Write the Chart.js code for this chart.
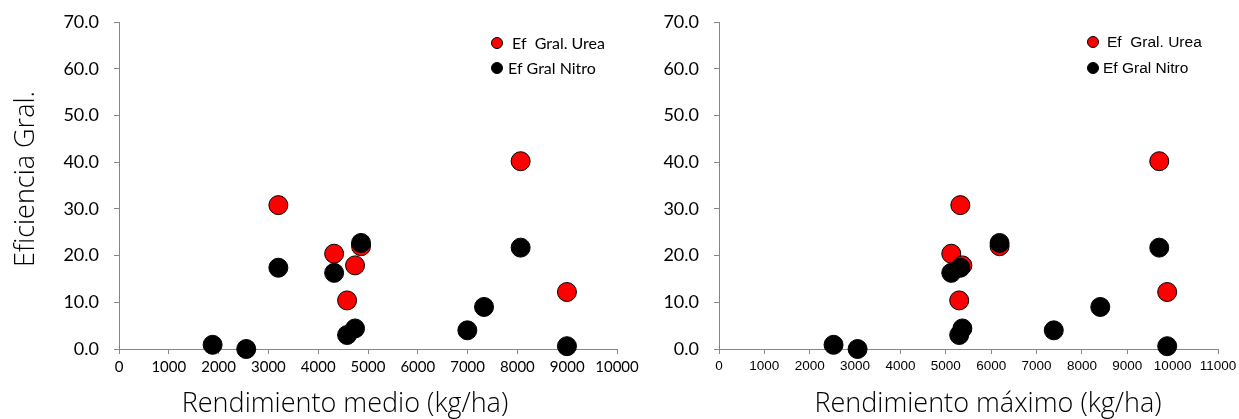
<!DOCTYPE html>
<html>
<head>
<meta charset="utf-8">
<script src="https://cdn.jsdelivr.net/npm/chart.js@4.4.1/dist/chart.umd.min.js"></script>
<style>
  html, body { margin: 0; padding: 0; background: #fff; overflow: hidden; }
  #wrap { position: relative; width: 1239px; height: 419px; overflow: hidden; }
  .box { position: absolute; top: 0; height: 419px; }
  #boxMedio { left: 0; width: 660px; }
  #boxMax { left: 620px; width: 619px; }
</style>
</head>
<body>
<div id="wrap">
  <div class="box" id="boxMedio"><canvas id="chartMedio"></canvas></div>
  <div class="box" id="boxMax"><canvas id="chartMax"></canvas></div>
</div>
<script>
// Data (one entry per site)
const rendMedio = [1880, 2555, 3200, 4320, 4580, 4740, 4860, 6995, 7330, 8065, 8995];
const rendMaximo = [2525, 3055, 5320, 5120, 5295, 5365, 6185, 7380, 8405, 9705, 9880];
const efUrea = [null, null, 30.8, 20.4, 10.4, 17.9, 22.0, null, null, 40.2, 12.2];
const efNitro = [0.9, 0.0, 17.4, 16.3, 3.0, 4.4, 22.7, 4.0, 9.0, 21.7, 0.6];

const seriesNames = ["Ef  Gral. Urea", "Ef Gral Nitro"];
const yTitle = "Eficiencia Gral.";
const xTitleMedio = "Rendimiento medio (kg/ha)";
const xTitleMax = "Rendimiento máximo (kg/ha)";
const yMax = 70;
const xMaxMedio = 10000;
const xMaxMaximo = 11000;

const AXIS_GREY = "#868686";
const TITLE_FONT = '300 27px "Century Gothic", "Open Sans", "DejaVu Sans", sans-serif';

function toPoints(xs, ys) {
    const pts = [];
    for (let i = 0; i < xs.length; i++) {
        if (ys[i] !== null) pts.push({ x: xs[i], y: ys[i] });
    }
    return pts;
}

// Draws axis titles and the small in-plot legend
function decorPlugin(cfg) {
    return {
        id: "decor",
        afterDraw(chart) {
            const ctx = chart.ctx;
            ctx.save();
            ctx.fillStyle = "#000";
            ctx.textBaseline = "middle";

            // x title
            ctx.font = TITLE_FONT;
            ctx.textAlign = "center";
            ctx.fillText(cfg.xTitle, cfg.xTitleX, cfg.xTitleY);

            // y title (left chart only)
            if (cfg.yTitle) {
                ctx.save();
                ctx.translate(26, 179);
                ctx.rotate(-Math.PI / 2);
                ctx.fillText(cfg.yTitle, 0, 0);
                ctx.restore();
            }

            // legend
            ctx.font = cfg.legendFont;
            ctx.textAlign = "left";
            const colors = ["#ff0000", "#000000"];
            for (let i = 0; i < 2; i++) {
                const y = cfg.legendY[i];
                ctx.beginPath();
                ctx.arc(cfg.legendX, y, 5.5, 0, Math.PI * 2);
                ctx.fillStyle = colors[i];
                ctx.fill();
                ctx.lineWidth = 1;
                ctx.strokeStyle = "#000";
                ctx.stroke();
                ctx.fillStyle = "#000";
                ctx.fillText(seriesNames[i], cfg.legendTextX[i], y + 1);
            }
            ctx.restore();
        }
    };
}

function makeChart(canvasId, xs, xMax, opts) {
    const ctx = document.getElementById(canvasId).getContext("2d");
    return new Chart(ctx, {
        type: "scatter",
        data: {
            datasets: [
                {
                    label: seriesNames[1],
                    data: toPoints(xs, efNitro),
                    backgroundColor: "#000000",
                    borderColor: "#000000",
                    borderWidth: 1,
                    pointRadius: 9.5,
                    clip: false
                },
                {
                    label: seriesNames[0],
                    data: toPoints(xs, efUrea),
                    backgroundColor: "#ff0000",
                    borderColor: "#000000",
                    borderWidth: 1,
                    pointRadius: 9.5,
                    clip: false
                }
            ]
        },
        options: {
            responsive: true,
            maintainAspectRatio: false,
            animation: false,
            layout: { padding: { left: 0, right: opts.padRight, top: 22, bottom: 0 } },
            plugins: { legend: { display: false }, tooltip: { enabled: false } },
            scales: {
                x: {
                    type: "linear",
                    min: 0,
                    max: xMax,
                    grid: { drawOnChartArea: false, drawTicks: true, tickLength: 5, color: AXIS_GREY },
                    border: { color: AXIS_GREY, width: 1 },
                    ticks: {
                        stepSize: 1000,
                        maxRotation: 0,
                        autoSkip: false,
                        padding: 4,
                        color: "#000",
                        font: opts.xTickFont,
                        callback: v => String(v)
                    },
                    afterFit(scale) {
                        scale.height = 70;
                        scale.paddingLeft = 0;
                        scale.paddingRight = 0;
                    }
                },
                y: {
                    type: "linear",
                    min: 0,
                    max: yMax,
                    grid: { drawOnChartArea: false, drawTicks: true, tickLength: 5, color: AXIS_GREY },
                    border: { color: AXIS_GREY, width: 1 },
                    ticks: {
                        stepSize: 10,
                        padding: 15,
                        color: "#000",
                        font: { family: 'Lato, "Open Sans", sans-serif', size: 18 },
                        callback: v => Number(v).toFixed(1)
                    },
                    afterFit(scale) {
                        scale.width = opts.yWidth;
                        scale.paddingTop = 0;
                        scale.paddingBottom = 0;
                    }
                }
            }
        },
        plugins: [decorPlugin(opts.decor)]
    });
}

makeChart("chartMedio", rendMedio, xMaxMedio, {
    padRight: 43,
    yWidth: 119,
    xTickFont: { family: 'Lato, "Open Sans", sans-serif', size: 15 },
    decor: {
        xTitle: xTitleMedio, xTitleX: 345, xTitleY: 404,
        yTitle: yTitle,
        legendFont: '16px Lato, "Open Sans", sans-serif',
        legendX: 497, legendY: [43, 68], legendTextX: [512, 508]
    }
});

makeChart("chartMax", rendMaximo, xMaxMaximo, {
    padRight: 21,
    yWidth: 99,
    xTickFont: { family: '"Liberation Sans", Arial, sans-serif', size: 13.5 },
    decor: {
        xTitle: xTitleMax, xTitleX: 368, xTitleY: 404,
        yTitle: null,
        legendFont: '15.5px "Liberation Sans", Arial, sans-serif',
        legendX: 473, legendY: [42, 68], legendTextX: [487, 483]
    }
});
</script>
</body>
</html>
